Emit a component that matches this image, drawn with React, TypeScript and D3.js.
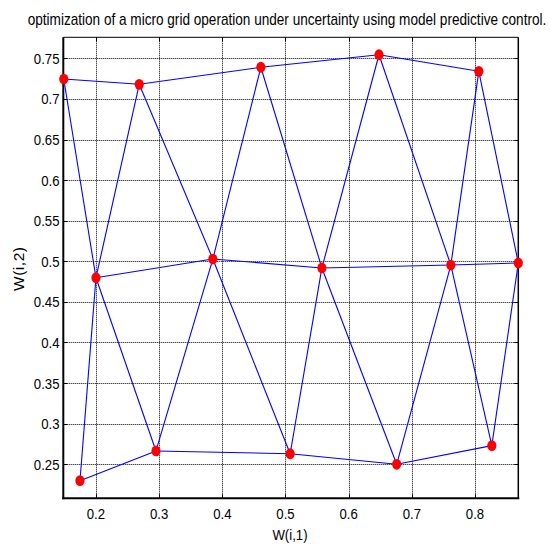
import React, { useEffect, useRef } from 'react';
import * as d3 from 'd3';

// SOM weight positions, rows top / middle / bottom
const w1 = [0.149, 0.2685, 0.461, 0.648, 0.806, 0.2, 0.385, 0.5576, 0.7617, 0.8685, 0.1747, 0.295, 0.5074, 0.676, 0.8266];
const w2 = [0.7245, 0.718, 0.739, 0.7544, 0.734, 0.4798, 0.5028, 0.4918, 0.4954, 0.4979, 0.2298, 0.2664, 0.263, 0.25, 0.273];

// neighbour links between neurons
const links = [
  [0, 1], [1, 2], [2, 3], [3, 4],
  [5, 6], [6, 7], [7, 8], [8, 9],
  [10, 11], [11, 12], [12, 13], [13, 14],
  [0, 5], [5, 1], [1, 6], [6, 2], [2, 7], [7, 3], [3, 8], [8, 4], [4, 9],
  [10, 5], [5, 11], [11, 6], [6, 12], [12, 7], [7, 13], [13, 8], [8, 14], [14, 9],
];

const xTicks = [0.2, 0.3, 0.4, 0.5, 0.6, 0.7, 0.8];
const yTicks = [0.25, 0.3, 0.35, 0.4, 0.45, 0.5, 0.55, 0.6, 0.65, 0.7, 0.75];

const title = 'optimization of a micro grid operation under uncertainty using model predictive control.';
const xLabel = 'W(i,1)';
const yLabel = 'W(i,2)';

const App = () => {
  const svgRef = useRef<SVGSVGElement>(null);

  useEffect(() => {
    const svg = d3.select(svgRef.current);
    svg.selectAll('*').remove();

    const left = 63.3, right = 518.3, top = 37.3, bottom = 498.3;
    const font = '"Liberation Sans", Arial, sans-serif';

    const x = d3.scaleLinear().domain([0.1483, 0.8685]).range([left, right]);
    const y = d3.scaleLinear().domain([0.2081, 0.7759]).range([bottom, top]);

    svg.append('rect')
      .attr('x', 0).attr('y', 0).attr('width', 550).attr('height', 544)
      .attr('fill', '#fff');

    // grid
    const grid = svg.append('g').attr('stroke', '#000').attr('stroke-width', 1).attr('stroke-dasharray', '1 1');
    grid.selectAll('line.vx').data(xTicks).enter().append('line')
      .attr('x1', d => Math.round(x(d)) + 0.5).attr('x2', d => Math.round(x(d)) + 0.5)
      .attr('y1', top).attr('y2', bottom);
    grid.selectAll('line.hy').data(yTicks).enter().append('line')
      .attr('y1', d => Math.round(y(d)) + 0.5).attr('y2', d => Math.round(y(d)) + 0.5)
      .attr('x1', left).attr('x2', right);

    // tick marks, inward on all sides
    const tk = svg.append('g').attr('stroke', '#000').attr('stroke-width', 1);
    xTicks.forEach(d => {
      const px = Math.round(x(d)) + 0.5;
      tk.append('line').attr('x1', px).attr('x2', px).attr('y1', bottom).attr('y2', bottom - 4);
      tk.append('line').attr('x1', px).attr('x2', px).attr('y1', top).attr('y2', top + 4);
    });
    yTicks.forEach(d => {
      const py = Math.round(y(d)) + 0.5;
      tk.append('line').attr('y1', py).attr('y2', py).attr('x1', left).attr('x2', left + 4);
      tk.append('line').attr('y1', py).attr('y2', py).attr('x1', right).attr('x2', right - 4);
    });

    // box
    svg.append('line').attr('x1', left).attr('x2', right).attr('y1', top).attr('y2', top).attr('stroke', '#000').attr('stroke-width', 1);
    svg.append('line').attr('x1', right).attr('x2', right).attr('y1', top).attr('y2', bottom).attr('stroke', '#000').attr('stroke-width', 1.5);
    svg.append('line').attr('x1', left).attr('x2', left).attr('y1', top).attr('y2', bottom + 1).attr('stroke', '#000').attr('stroke-width', 2);
    svg.append('line').attr('x1', left - 1).attr('x2', right + 1).attr('y1', bottom).attr('y2', bottom).attr('stroke', '#000').attr('stroke-width', 2);

    // links
    svg.append('g').selectAll('line').data(links).enter().append('line')
      .attr('x1', d => x(w1[d[0]])).attr('y1', d => y(w2[d[0]]))
      .attr('x2', d => x(w1[d[1]])).attr('y2', d => y(w2[d[1]]))
      .attr('stroke', '#0000ff').attr('stroke-width', 1.1);

    // neurons
    svg.append('g').selectAll('ellipse').data(w1).enter().append('ellipse')
      .attr('cx', d => x(d)).attr('cy', (d, i) => y(w2[i]))
      .attr('rx', 4.6).attr('ry', 5.4)
      .attr('fill', '#ff0000');

    // tick labels
    svg.append('g').selectAll('text').data(xTicks).enter().append('text')
      .attr('class', 'squeeze')
      .attr('x', d => x(d)).attr('y', 518.5)
      .attr('text-anchor', 'middle')
      .attr('font-family', font).attr('font-size', 15.5)
      .text(d => String(d));
    svg.append('g').selectAll('text').data(yTicks).enter().append('text')
      .attr('class', 'squeeze')
      .attr('x', 59.5).attr('y', d => y(d) + 5.5)
      .attr('text-anchor', 'end')
      .attr('font-family', font).attr('font-size', 15.5)
      .text(d => String(d));

    svg.append('text')
      .attr('class', 'squeeze')
      .attr('x', 290).attr('y', 540)
      .attr('text-anchor', 'middle')
      .attr('font-family', font).attr('font-size', 15.5)
      .text(xLabel);

    // y label is drawn loosely spaced in the reference
    svg.append('text')
      .attr('transform', `translate(24,269) rotate(-90)`)
      .attr('text-anchor', 'middle')
      .attr('font-family', font).attr('font-size', 15.5)
      .attr('textLength', 44)
      .attr('lengthAdjust', 'spacing')
      .text(yLabel);

    // title, condensed with a transform so its box stays inside the page
    svg.append('text')
      .attr('transform', 'translate(287,25) scale(0.85,1)')
      .attr('text-anchor', 'middle')
      .attr('font-family', font).attr('font-size', 16)
      .text(title);

    // the reference renders its text horizontally condensed
    svg.selectAll<SVGTextElement, unknown>('text.squeeze').each(function () {
      const w = this.getComputedTextLength();
      this.setAttribute('textLength', String(w * 0.85));
      this.setAttribute('lengthAdjust', 'spacingAndGlyphs');
    });
  }, []);

  return (
    <svg ref={svgRef} width={550} height={544} style={{ position: 'absolute', left: 0, top: 0 }}></svg>
  );
};

export default App;
